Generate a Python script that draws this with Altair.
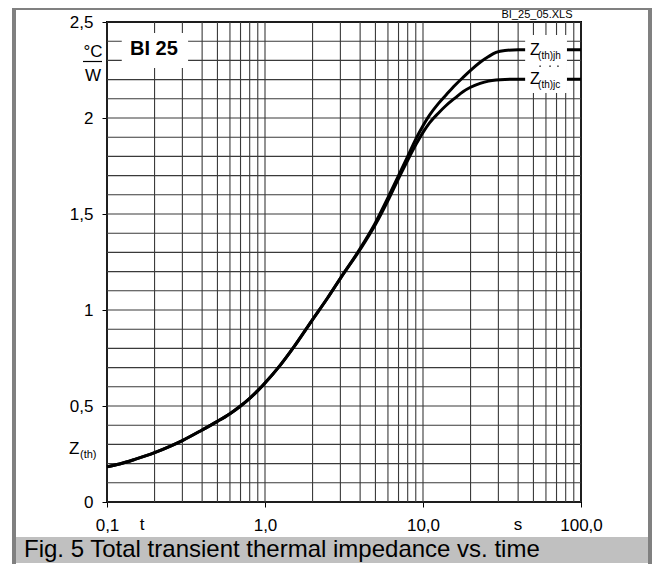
import altair as alt
import pandas as pd

# ---- data ----
t_vals = [0.1, 0.12, 0.15, 0.2, 0.25, 0.3, 0.4, 0.5, 0.6, 0.7, 0.8, 0.9, 1.0, 1.25, 1.5, 2.0, 2.5,
          3.0, 4.0, 5.0, 6.0, 7.0, 8.0, 9.0, 10.0, 11.0, 12.5, 14.0, 16.0, 18.0, 20.0, 23.0,
          26.0, 29.0, 33.0, 40.0, 60.0, 100.0]
z_jh = [0.183, 0.198, 0.222, 0.257, 0.29, 0.32, 0.375, 0.42, 0.46, 0.50, 0.54, 0.58, 0.62, 0.713,
        0.80, 0.95, 1.065, 1.165, 1.32, 1.455, 1.585, 1.70, 1.80, 1.89, 1.96, 2.015, 2.075, 2.12,
        2.172, 2.213, 2.248, 2.29, 2.32, 2.342, 2.352, 2.355, 2.355, 2.355]
z_jc = [0.183, 0.198, 0.222, 0.257, 0.29, 0.32, 0.375, 0.42, 0.46, 0.50, 0.54, 0.58, 0.62, 0.713,
        0.80, 0.95, 1.065, 1.165, 1.315, 1.445, 1.57, 1.685, 1.78, 1.86, 1.925, 1.975, 2.025, 2.065,
        2.105, 2.138, 2.16, 2.18, 2.192, 2.198, 2.201, 2.202, 2.202, 2.202]

x_grid = [0.1, 0.2, 0.3, 0.4, 0.5, 0.6, 0.7, 0.8, 0.9,
          1, 2, 3, 4, 5, 6, 7, 8, 9,
          10, 20, 30, 40, 50, 60, 70, 80, 90, 100]
y_grid = [0.0, 0.1, 0.2, 0.3, 0.4, 0.5, 0.6, 0.7, 0.8, 0.9, 1.0, 1.1, 1.2, 1.3, 1.4,
          1.5, 1.6, 1.7, 1.8, 1.9, 2.0, 2.1, 2.2, 2.3, 2.4, 2.5]
x_ticks = [0.1, 1, 10, 100]
y_ticks = [0, 0.5, 1, 1.5, 2, 2.5]

# label boxes (data coordinates)
box_t1 = [0.124, 44.3]
box_t2 = [0.326, 81.5]
box_z1 = [2.26, 2.13]
box_z2 = [2.443, 2.432]

# in-plot labels
main_lab = ["Z", "Z"]
main_t = [47.5, 47.5]
main_z = [2.352, 2.203]
sub_lab = ["(th)jh", "(th)jc"]
sub_t = [53.5, 53.5]
sub_z = [2.322, 2.172]
dot_t = [55.1, 63.7, 71.5]
dot_z = [2.27, 2.27, 2.27]

FONT = "Liberation Sans"

xs = alt.Scale(type="log", domain=[0.1, 100], nice=False)
ys = alt.Scale(domain=[0, 2.5], nice=False)

xaxis = alt.Axis(values=x_ticks, labelExpr="replace(format(datum.value, '.1f'), '.', ',')",
                 grid=False, domain=False, tickSize=5, tickColor="black", tickWidth=1,
                 labelColor="black", labelFont=FONT, labelFontSize=17, labelPadding=10,
                 labelFlush=False, labelOverlap=False, title=None)
yaxis = alt.Axis(values=y_ticks, labelExpr="replace(toString(datum.value), '.', ',')",
                 grid=False, domain=False, tickSize=5, tickColor="black", tickWidth=1,
                 labelColor="black", labelFont=FONT, labelFontSize=17, labelPadding=9,
                 labelFlush=False, labelOverlap=False, title=None)


def X(f):
    return alt.X(f, type="quantitative", scale=xs, axis=xaxis)


def Y(f):
    return alt.Y(f, type="quantitative", scale=ys, axis=yaxis)


one = pd.DataFrame({"a": [0]})

# decorations (outer frame, caption bar)
frame_col = "#808080"
left_bar = alt.Chart(one).mark_rect(color=frame_col).encode(
    x=alt.value(-95), x2=alt.value(-91), y=alt.value(-14), y2=alt.value(542))
right_bar = alt.Chart(one).mark_rect(color=frame_col).encode(
    x=alt.value(541), x2=alt.value(545), y=alt.value(-14), y2=alt.value(542))
top_bar = alt.Chart(one).mark_rect(color=frame_col).encode(
    x=alt.value(-95), x2=alt.value(545), y=alt.value(-14), y2=alt.value(-12))
cap_box = alt.Chart(one).mark_rect(color="#c0c0c0").encode(
    x=alt.value(-91), x2=alt.value(541), y=alt.value(515), y2=alt.value(541))
cap_text = alt.Chart(one).mark_text(align="left", baseline="alphabetic", font=FONT,
                                    fontSize=24, color="black").encode(
    x=alt.value(-83), y=alt.value(535),
    text=alt.value("Fig. 5 Total transient thermal impedance vs. time"))

# grid
vgrid = alt.Chart(pd.DataFrame({"t": x_grid})).mark_rule(color="#3a3a3a", strokeWidth=1.1).encode(
    x=X("t"))
hgrid = alt.Chart(pd.DataFrame({"z": y_grid})).mark_rule(color="#3a3a3a", strokeWidth=1.1).encode(
    y=Y("z"))

# curves
n = len(t_vals)
curves_df = pd.DataFrame({"t": t_vals * 2, "z": z_jh + z_jc,
                          "s": ["Z(th)jh"] * n + ["Z(th)jc"] * n})
curves = alt.Chart(curves_df).mark_line(strokeWidth=3, interpolate="monotone").encode(
    x=X("t"), y=Y("z"),
    color=alt.Color("s:N", scale=alt.Scale(domain=["Z(th)jh", "Z(th)jc"], range=["black", "black"]),
                    legend=None))

boxes = alt.Chart(pd.DataFrame({"t1": box_t1, "t2": box_t2, "z1": box_z1, "z2": box_z2})).mark_rect(
    color="white").encode(x=X("t1"), x2="t2", y=Y("z1"), y2="z2")

bi_label = alt.Chart(pd.DataFrame({"t": [0.198], "z": [2.36], "l": ["BI 25"]})).mark_text(
    align="center", baseline="middle", font=FONT, fontSize=20, fontWeight="bold", color="black"
).encode(x=X("t"), y=Y("z"), text="l:N")

zlab = alt.Chart(pd.DataFrame({"t": main_t, "z": main_z, "l": main_lab})).mark_text(
    align="left", baseline="middle", font=FONT, fontSize=16, color="black"
).encode(x=X("t"), y=Y("z"), text="l:N")
zsub = alt.Chart(pd.DataFrame({"t": sub_t, "z": sub_z, "l": sub_lab})).mark_text(
    align="left", baseline="middle", font=FONT, fontSize=10, color="black"
).encode(x=X("t"), y=Y("z"), text="l:N")
dots = alt.Chart(pd.DataFrame({"t": dot_t, "z": dot_z})).mark_point(
    filled=True, size=3, color="#444", opacity=1).encode(x=X("t"), y=Y("z"))

# texts outside plot
file_lab = alt.Chart(one).mark_text(align="center", baseline="middle", font=FONT, fontSize=11,
                                    color="black").encode(
    x=alt.value(430), y=alt.value(-7.5), text=alt.value("BI_25_05.XLS"))
t_lab = alt.Chart(one).mark_text(align="center", baseline="top", font=FONT, fontSize=17,
                                 color="black").encode(
    x=alt.value(35), y=alt.value(495), text=alt.value("t"))
s_lab = alt.Chart(one).mark_text(align="center", baseline="top", font=FONT, fontSize=17,
                                 color="black").encode(
    x=alt.value(411), y=alt.value(495), text=alt.value("s"))
zth_Z = alt.Chart(one).mark_text(align="left", baseline="middle", font=FONT, fontSize=17,
                                 color="black").encode(
    x=alt.value(-38), y=alt.value(427), text=alt.value("Z"))
zth_sub = alt.Chart(one).mark_text(align="left", baseline="middle", font=FONT, fontSize=11,
                                   color="black").encode(
    x=alt.value(-27), y=alt.value(433), text=alt.value("(th)"))
unit_c = alt.Chart(one).mark_text(align="center", baseline="middle", font=FONT, fontSize=17,
                                  color="black").encode(
    x=alt.value(-14), y=alt.value(30), text=alt.value("°C"))
unit_line = alt.Chart(one).mark_rule(color="black", strokeWidth=1.2).encode(
    x=alt.value(-24), x2=alt.value(-5), y=alt.value(39.5))
unit_w = alt.Chart(one).mark_text(align="center", baseline="middle", font=FONT, fontSize=17,
                                  color="black").encode(
    x=alt.value(-14), y=alt.value(54), text=alt.value("W"))

chart = alt.layer(
    left_bar, right_bar, top_bar, cap_box, cap_text,
    vgrid, hgrid, curves, boxes, bi_label, zlab, zsub, dots,
    file_lab, t_lab, s_lab, zth_Z, zth_sub, unit_c, unit_line, unit_w
).properties(
    width=474, height=480,
    padding={"left": 99, "top": 14, "right": 71, "bottom": 62},
    autosize="none", background="white"
).configure_view(stroke="black", strokeWidth=2)

chart.save("out.html", embed_options={"renderer": "svg", "actions": False})
